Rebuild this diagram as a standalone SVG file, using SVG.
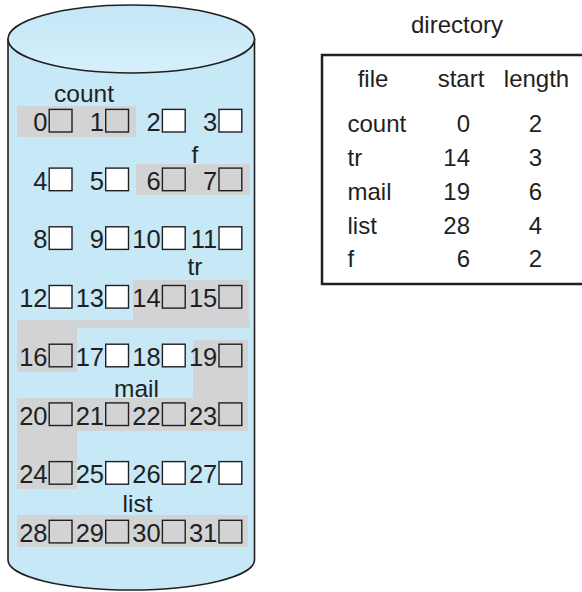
<svg xmlns="http://www.w3.org/2000/svg" width="582" height="592" viewBox="0 0 582 592">
<defs>
<style>
text{font-family:"Liberation Sans",Arial,sans-serif;fill:#231f20}
.d{font-size:25.5px;text-anchor:end}
.lb{font-size:24.5px;text-anchor:middle}
.t{font-size:24px}
.g{fill:#d1d3d4}
.w{fill:#ffffff;stroke:#231f20;stroke-width:1.4}
.b{fill:#d1d3d4;stroke:#231f20;stroke-width:1.4}
</style>
<linearGradient id="top" x1="0" y1="0" x2="0" y2="1">
<stop offset="0" stop-color="#c3e6f6"/>
<stop offset="1" stop-color="#d6f0fb"/>
</linearGradient>
</defs>
<rect width="582" height="592" fill="#ffffff"/>
<g id="disk">
<path d="M8 39 L8 560 A123.25 30 0 0 0 254.5 560 L254.5 39 Z" fill="#c6e8f7" stroke="#231f20" stroke-width="1.6"/>
<ellipse cx="131.25" cy="39" rx="123.25" ry="34" fill="url(#top)" stroke="#231f20" stroke-width="1.6"/>
</g>
<g id="file-count">
<rect class="g" x="17" y="106" width="119" height="31"/>
<text class="lb" x="84" y="102">count</text>
</g>
<g id="file-f">
<rect class="g" x="136" y="164" width="114" height="31"/>
<text class="lb" x="195" y="163">f</text>
</g>
<g id="file-tr">
<path class="g" d="M133 280 H249 V320 H250 V328 H77 V372 H17 V320 H133 Z"/>
<text class="lb" x="195" y="275">tr</text>
</g>
<g id="file-mail">
<path class="g" d="M193 340 H248 V431 H77 V489 H17 V398 H193 Z"/>
<text class="lb" x="136.5" y="397">mail</text>
</g>
<g id="file-list">
<rect class="g" x="17" y="515" width="231" height="32"/>
<text class="lb" x="137.5" y="512">list</text>
</g>
<g id="blocks">
<!-- row 0 -->
<rect class="b" x="49.2" y="109.4" width="22.8" height="22.6"/><text class="d" x="47.5" y="131">0</text>
<rect class="b" x="105.7" y="109.4" width="22.8" height="22.6"/><text class="d" x="104" y="131">1</text>
<rect class="w" x="162.4" y="109.4" width="22.8" height="22.6"/><text class="d" x="160.7" y="131">2</text>
<rect class="w" x="219" y="109.4" width="22.8" height="22.6"/><text class="d" x="217.3" y="131">3</text>
<!-- row 1 -->
<rect class="w" x="49.2" y="168.1" width="22.8" height="22.6"/><text class="d" x="47.5" y="189.7">4</text>
<rect class="w" x="105.7" y="168.1" width="22.8" height="22.6"/><text class="d" x="104" y="189.7">5</text>
<rect class="b" x="162.4" y="168.1" width="22.8" height="22.6"/><text class="d" x="160.7" y="189.7">6</text>
<rect class="b" x="219" y="168.1" width="22.8" height="22.6"/><text class="d" x="217.3" y="189.7">7</text>
<!-- row 2 -->
<rect class="w" x="49.2" y="226.8" width="22.8" height="22.6"/><text class="d" x="47.5" y="248.4">8</text>
<rect class="w" x="105.7" y="226.8" width="22.8" height="22.6"/><text class="d" x="104" y="248.4">9</text>
<rect class="w" x="162.4" y="226.8" width="22.8" height="22.6"/><text class="d" x="160.7" y="248.4">10</text>
<rect class="w" x="219" y="226.8" width="22.8" height="22.6"/><text class="d" x="217.3" y="248.4">11</text>
<!-- row 3 -->
<rect class="w" x="49.2" y="285.5" width="22.8" height="22.6"/><text class="d" x="47.5" y="307.1">12</text>
<rect class="w" x="105.7" y="285.5" width="22.8" height="22.6"/><text class="d" x="104" y="307.1">13</text>
<rect class="b" x="162.4" y="285.5" width="22.8" height="22.6"/><text class="d" x="160.7" y="307.1">14</text>
<rect class="b" x="219" y="285.5" width="22.8" height="22.6"/><text class="d" x="217.3" y="307.1">15</text>
<!-- row 4 -->
<rect class="b" x="49.2" y="344.2" width="22.8" height="22.6"/><text class="d" x="47.5" y="365.8">16</text>
<rect class="w" x="105.7" y="344.2" width="22.8" height="22.6"/><text class="d" x="104" y="365.8">17</text>
<rect class="w" x="162.4" y="344.2" width="22.8" height="22.6"/><text class="d" x="160.7" y="365.8">18</text>
<rect class="b" x="219" y="344.2" width="22.8" height="22.6"/><text class="d" x="217.3" y="365.8">19</text>
<!-- row 5 -->
<rect class="b" x="49.2" y="402.9" width="22.8" height="22.6"/><text class="d" x="47.5" y="424.5">20</text>
<rect class="b" x="105.7" y="402.9" width="22.8" height="22.6"/><text class="d" x="104" y="424.5">21</text>
<rect class="b" x="162.4" y="402.9" width="22.8" height="22.6"/><text class="d" x="160.7" y="424.5">22</text>
<rect class="b" x="219" y="402.9" width="22.8" height="22.6"/><text class="d" x="217.3" y="424.5">23</text>
<!-- row 6 -->
<rect class="b" x="49.2" y="461.6" width="22.8" height="22.6"/><text class="d" x="47.5" y="483.2">24</text>
<rect class="w" x="105.7" y="461.6" width="22.8" height="22.6"/><text class="d" x="104" y="483.2">25</text>
<rect class="w" x="162.4" y="461.6" width="22.8" height="22.6"/><text class="d" x="160.7" y="483.2">26</text>
<rect class="w" x="219" y="461.6" width="22.8" height="22.6"/><text class="d" x="217.3" y="483.2">27</text>
<!-- row 7 -->
<rect class="b" x="49.2" y="520.3" width="22.8" height="22.6"/><text class="d" x="47.5" y="541.9">28</text>
<rect class="b" x="105.7" y="520.3" width="22.8" height="22.6"/><text class="d" x="104" y="541.9">29</text>
<rect class="b" x="162.4" y="520.3" width="22.8" height="22.6"/><text class="d" x="160.7" y="541.9">30</text>
<rect class="b" x="219" y="520.3" width="22.8" height="22.6"/><text class="d" x="217.3" y="541.9">31</text>
</g>
<g id="directory">
<text class="t" x="457" y="33" text-anchor="middle">directory</text>
<rect x="322" y="55" width="280" height="229" fill="none" stroke="#231f20" stroke-width="2.5"/>
<text class="t" x="373" y="87" text-anchor="middle">file</text>
<text class="t" x="461" y="87" text-anchor="middle">start</text>
<text class="t" x="536.5" y="87" text-anchor="middle">length</text>
<text class="t" x="347.5" y="132">count</text>
<text class="t" x="470" y="132" text-anchor="end">0</text>
<text class="t" x="542" y="132" text-anchor="end">2</text>
<text class="t" x="347.5" y="165.5">tr</text>
<text class="t" x="470" y="165.5" text-anchor="end">14</text>
<text class="t" x="542" y="165.5" text-anchor="end">3</text>
<text class="t" x="347.5" y="199.5">mail</text>
<text class="t" x="470" y="199.5" text-anchor="end">19</text>
<text class="t" x="542" y="199.5" text-anchor="end">6</text>
<text class="t" x="347.5" y="233.5">list</text>
<text class="t" x="470" y="233.5" text-anchor="end">28</text>
<text class="t" x="542" y="233.5" text-anchor="end">4</text>
<text class="t" x="347.5" y="267">f</text>
<text class="t" x="470" y="267" text-anchor="end">6</text>
<text class="t" x="542" y="267" text-anchor="end">2</text>
</g>
</svg>
